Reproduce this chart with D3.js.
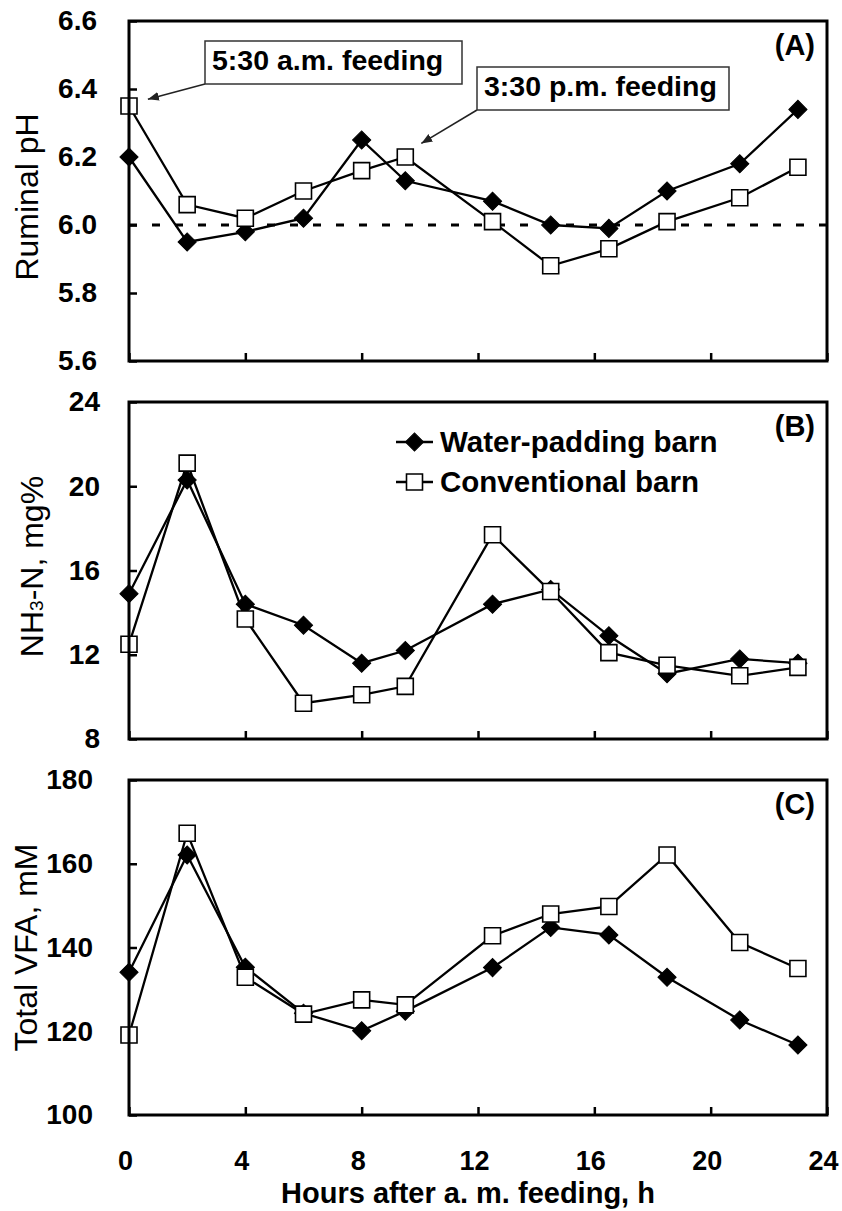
<!DOCTYPE html>
<html>
<head>
<meta charset="utf-8">
<script src="https://cdn.jsdelivr.net/npm/d3@7"></script>
<style>
  html, body { margin: 0; padding: 0; background: #fff; }
  svg { display: block; font-family: "Liberation Sans", Arial, sans-serif; }
</style>
</head>
<body>
<svg id="chart" width="842" height="1211"></svg>
<script>
// sampling times, h after a.m. feeding
var hours = [0, 2, 4, 6, 8, 9.5, 12.5, 14.5, 16.5, 18.5, 21, 23];

// (A) ruminal pH
var phWater = [6.20, 5.95, 5.98, 6.02, 6.25, 6.13, 6.07, 6.00, 5.99, 6.10, 6.18, 6.34];
var phConv = [6.35, 6.06, 6.02, 6.10, 6.16, 6.20, 6.01, 5.88, 5.93, 6.01, 6.08, 6.17];

// (B) NH3-N, mg%
var nhWater = [14.9, 20.3, 14.4, 13.4, 11.6, 12.2, 14.4, 15.1, 12.9, 11.1, 11.8, 11.6];
var nhConv = [12.5, 21.1, 13.7, 9.7, 10.1, 10.5, 17.7, 15.0, 12.1, 11.5, 11.0, 11.4];

// (C) total VFA, mM
var vfaWater = [134.1, 162.1, 135.3, 124.3, 120.1, 124.8, 135.2, 144.8, 143.0, 132.9, 122.7, 116.7];
var vfaConv = [119.1, 167.3, 132.9, 124.1, 127.5, 126.3, 142.8, 148.0, 149.8, 162.1, 141.2, 135.0];

var seriesNames = ["Water-padding barn", "Conventional barn"];
var xTicks = [0, 4, 8, 12, 16, 20, 24];

var svg = d3.select("#chart");
var x = d3.scaleLinear().domain([0, 24]).range([129, 827]);

var panels = [
  { key: "A", top: 21, bottom: 361, domain: [5.6, 6.6], ticks: [5.6, 5.8, 6.0, 6.2, 6.4, 6.6], fmt: d3.format(".1f"),
    water: phWater, conv: phConv, pad: 32, title: "Ruminal pH", titleX: 38, titleDy: 6 },
  { key: "B", top: 402, bottom: 739, domain: [8, 24], ticks: [8, 12, 16, 20, 24], fmt: d3.format("d"),
    water: nhWater, conv: nhConv, pad: 29, title: null, titleX: 43, titleDy: -4 },
  { key: "C", top: 780, bottom: 1115, domain: [100, 180], ticks: [100, 120, 140, 160, 180], fmt: d3.format("d"),
    water: vfaWater, conv: vfaConv, pad: 36, title: "Total VFA, mM", titleX: 37, titleDy: 0 }
];

var diamond = d3.symbol().type(d3.symbolSquare).size(165);
var square = d3.symbol().type(d3.symbolSquare).size(256);

function drawSeries(g, y, vals, kind) {
  var pts = hours.map(function(h, i) { return [h, vals[i]]; });
  var line = d3.line()
    .x(function(d) { return x(d[0]); })
    .y(function(d) { return y(d[1]); });
  g.append("path")
    .attr("d", line(pts))
    .attr("fill", "none")
    .attr("stroke", "#000")
    .attr("stroke-width", 2.3);
  g.selectAll("path.m" + kind)
    .data(pts)
    .enter()
    .append("path")
    .attr("class", "m" + kind)
    .attr("d", kind === "w" ? diamond : square)
    .attr("transform", function(d) {
      return "translate(" + x(d[0]) + "," + y(d[1]) + ")" + (kind === "w" ? " rotate(45)" : "");
    })
    .attr("fill", kind === "w" ? "#000" : "#fff")
    .attr("stroke", "#000")
    .attr("stroke-width", kind === "w" ? 1 : 1.6);
}

panels.forEach(function(p) {
  var y = d3.scaleLinear().domain(p.domain).range([p.bottom, p.top]);
  var g = svg.append("g").attr("class", "panel-" + p.key);

  // y axis, ticks pointing inward
  var ya = g.append("g")
    .attr("transform", "translate(" + x.range()[0] + ",0)")
    .call(d3.axisLeft(y).tickValues(p.ticks).tickFormat(p.fmt).tickSizeInner(-8).tickSizeOuter(0).tickPadding(p.pad));
  ya.select(".domain").remove();
  ya.selectAll("line").attr("stroke", "#000").attr("stroke-width", 2.5);
  ya.selectAll("text").attr("font-size", 28).attr("font-weight", "bold").attr("fill", "#000")
    .attr("font-family", "Liberation Sans, Arial, sans-serif");

  // x axis, only the bottom panel gets labels
  var xa = g.append("g")
    .attr("transform", "translate(0," + p.bottom + ")")
    .call(d3.axisBottom(x).tickValues(xTicks).tickSizeInner(-8).tickSizeOuter(0).tickPadding(35.5));
  xa.select(".domain").remove();
  xa.selectAll("line").attr("stroke", "#000").attr("stroke-width", 2.5);
  if (p.key === "C") {
    xa.selectAll("text").attr("font-size", 27).attr("font-weight", "bold").attr("fill", "#000")
      .attr("dx", -4).attr("font-family", "Liberation Sans, Arial, sans-serif");
  } else {
    xa.selectAll("text").remove();
  }

  // 6.0 reference line in (A)
  if (p.key === "A") {
    g.append("line")
      .attr("x1", x(0)).attr("x2", x(24))
      .attr("y1", y(6.0)).attr("y2", y(6.0))
      .attr("stroke", "#000").attr("stroke-width", 3)
      .attr("stroke-dasharray", "8,15");
  }

  drawSeries(g, y, p.water, "w");
  drawSeries(g, y, p.conv, "c");

  // frame
  g.append("rect")
    .attr("x", x(0)).attr("y", p.top)
    .attr("width", x(24) - x(0)).attr("height", p.bottom - p.top)
    .attr("fill", "none").attr("stroke", "#000").attr("stroke-width", 3);

  // panel letter
  g.append("text")
    .attr("x", 815).attr("y", p.top + 34)
    .attr("text-anchor", "end")
    .attr("font-size", 29).attr("font-weight", "bold")
    .text("(" + p.key + ")");

  // y title
  var cy = (p.top + p.bottom) / 2 + p.titleDy;
  var t = g.append("text")
    .attr("transform", "translate(" + p.titleX + "," + cy + ") rotate(-90)")
    .attr("text-anchor", "middle")
    .attr("font-size", 32);
  if (p.title) {
    t.text(p.title);
  } else {
    t.append("tspan").text("NH");
    t.append("tspan").attr("font-size", 19).text("3");
    t.append("tspan").text("-N, mg%");
  }

  // legend in (B)
  if (p.key === "B") {
    var lg = g.append("g");
    [0, 1].forEach(function(i) {
      var ly = 442 + i * 40;
      lg.append("line").attr("x1", 396).attr("x2", 433).attr("y1", ly).attr("y2", ly)
        .attr("stroke", "#000").attr("stroke-width", 2.3);
      lg.append("path")
        .attr("d", i === 0 ? diamond : square)
        .attr("transform", "translate(414.5," + ly + ")" + (i === 0 ? " rotate(45)" : ""))
        .attr("fill", i === 0 ? "#000" : "#fff")
        .attr("stroke", "#000").attr("stroke-width", i === 0 ? 1 : 1.6);
      lg.append("text")
        .attr("x", 440).attr("y", ly + 10)
        .attr("font-size", 29.5).attr("font-weight", "bold")
        .text(seriesNames[i]);
    });
  }

  // feeding call-outs in (A)
  if (p.key === "A") {
    var defs = svg.append("defs");
    defs.append("marker")
      .attr("id", "arrow")
      .attr("viewBox", "0 0 10 10")
      .attr("refX", 10).attr("refY", 5)
      .attr("markerWidth", 11).attr("markerHeight", 11)
      .attr("markerUnits", "userSpaceOnUse")
      .attr("orient", "auto")
      .append("path")
      .attr("d", "M0,1 L10,5 L0,9 z")
      .attr("fill", "#222");

    var notes = [
      { text: "5:30 a.m. feeding", bx: 205, by: 41, bw: 257, tipH: 0.65, tipV: 6.37 },
      { text: "3:30 p.m. feeding", bx: 477, by: 67, bw: 252, tipH: 10.05, tipV: 6.24 }
    ];
    notes.forEach(function(n) {
      g.append("line")
        .attr("x1", n.bx).attr("y1", n.by + 43)
        .attr("x2", x(n.tipH)).attr("y2", y(n.tipV))
        .attr("stroke", "#222").attr("stroke-width", 1.6)
        .attr("marker-end", "url(#arrow)");
      g.append("rect")
        .attr("x", n.bx).attr("y", n.by)
        .attr("width", n.bw).attr("height", 43)
        .attr("fill", "#fff").attr("stroke", "#333").attr("stroke-width", 1.5);
      g.append("text")
        .attr("x", n.bx + 7).attr("y", n.by + 29)
        .attr("font-size", 28.5).attr("font-weight", "bold")
        .text(n.text);
    });
  }
});

// x title
svg.append("text")
  .attr("x", 468).attr("y", 1203)
  .attr("text-anchor", "middle")
  .attr("font-size", 29).attr("font-weight", "bold")
  .text("Hours after a. m. feeding, h");
</script>
</body>
</html>
